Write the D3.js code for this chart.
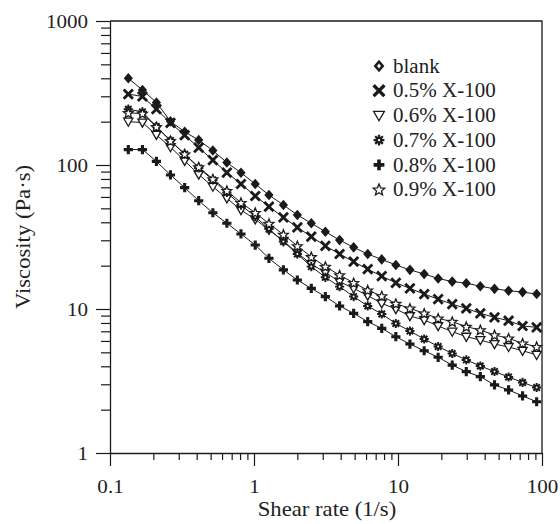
<!DOCTYPE html>
<html><head><meta charset="utf-8">
<script src="https://cdn.jsdelivr.net/npm/d3@7"></script>
<style>
html,body{margin:0;padding:0;background:#fff;}
svg{display:block;}
text{font-family:"Liberation Serif","Times New Roman",serif;fill:#222;}
</style></head>
<body>
<svg id="chart" width="560" height="524"></svg>
<script>
// ---------------- data ----------------
const shearRate = [0.134,0.168,0.210,0.263,0.330,0.413,0.518,0.648,0.812,1.02,
                   1.27,1.60,2.00,2.50,3.13,3.93,4.92,6.16,7.71,9.66,
                   12.1,15.2,19.0,23.8,29.8,37.3,46.8,58.6,73.3,91.8];
const blank   = [400,332,272,201,170,149,126,104,88.4,73.8,
                 61.9,52.7,45.0,39.4,34.4,30.1,26.8,24.1,22.1,20.2,
                 18.7,17.5,16.3,15.5,15.1,14.4,13.8,13.4,13.1,12.7];
const x05     = [311,299,244,196,161,132,108,88.5,73.8,60.9,
                 51.4,43.3,36.9,31.8,27.4,24.1,21.3,18.9,16.9,15.2,
                 13.9,12.7,11.7,10.8,10.1,9.33,8.75,8.29,7.62,7.46];
const x06     = [200,197,162,133,107,85.9,70.7,58.7,48.7,42.0,
                 35.4,29.7,24.5,20.5,17.9,15.5,13.9,12.4,10.95,10.0,
                 8.94,8.39,7.62,6.96,6.42,6.09,5.71,5.45,5.13,4.80];
const x07     = [244,234,185,148,119,95.3,78.7,64.4,52.7,43.8,
                 35.9,29.4,24.1,19.7,16.6,14.3,12.2,10.5,9.23,7.93,
                 7.03,6.19,5.49,4.91,4.43,4.02,3.68,3.37,3.09,2.85];
const x08     = [128,128,106,85.3,69.6,56.5,46.6,39.4,33.2,27.8,
                 22.5,18.7,15.9,13.9,12.2,10.5,9.33,8.17,7.34,6.42,
                 5.71,5.13,4.62,4.08,3.67,3.39,2.97,2.74,2.49,2.27];
const x09     = [230,228,184,147,119,96.8,79.9,66.3,54.7,46.6,
                 39.2,32.9,27.4,23.0,19.7,17.2,15.2,13.5,12.3,10.9,
                 10.1,9.33,8.61,8.17,7.54,7.15,6.60,6.26,5.78,5.47];
const seriesNames = ["blank","0.5% X-100","0.6% X-100","0.7% X-100","0.8% X-100","0.9% X-100"];
const seriesValues = [blank,x05,x06,x07,x08,x09];
const markerTypes = ["diamond","cross","triangle","burst","plus","star"];
const xMajorTicks = [0.1,1,10,100];
const yMajorTicks = [1,10,100,1000];
const xTitle = "Shear rate (1/s)";
const yTitle = "Viscosity (Pa\u00B7s)";

// ---------------- layout ----------------
const L=110, R=542, T=21, B=453;
const svg = d3.select("#chart");
const x = d3.scaleLog().domain([0.1,100]).range([L,R]);
const y = d3.scaleLog().domain([1,1000]).range([B,T]);
const ink = "#1a1a1a";

function minorTicks(lo, hi){
  const out=[];
  for(let d=lo; d<hi; d*=10){ for(let k=2;k<=9;k++) out.push(+(d*k).toPrecision(3)); }
  return out;
}
function fmt(v){ return v<1 ? String(v) : d3.format("d")(v); }
function stretch(sel,k){
  sel.each(function(){
    const len=this.getComputedTextLength();
    this.setAttribute("textLength", (len*k).toFixed(2));
    this.setAttribute("lengthAdjust","spacingAndGlyphs");
  });
}

// frame (top and right)
svg.append("path")
  .attr("d",`M${L},${T}H${R}V${B}`)
  .attr("fill","none").attr("stroke",ink).attr("stroke-width",1.3);

// x axis
const gx = svg.append("g").attr("transform",`translate(0,${B})`);
gx.call(d3.axisBottom(x).tickValues(xMajorTicks).tickSize(13).tickSizeOuter(0).tickPadding(13).tickFormat(fmt));
const gxm = svg.append("g").attr("transform",`translate(0,${B})`);
gxm.call(d3.axisBottom(x).tickValues(minorTicks(0.1,100)).tickSize(7).tickSizeOuter(0).tickFormat(""));
gxm.select(".domain").remove();

// y axis
const gy = svg.append("g").attr("transform",`translate(${L},0)`);
gy.call(d3.axisLeft(y).tickValues(yMajorTicks).tickSize(14).tickSizeOuter(0).tickPadding(8).tickFormat(fmt));
const gym = svg.append("g").attr("transform",`translate(${L},0)`);
gym.call(d3.axisLeft(y).tickValues(minorTicks(1,1000)).tickSize(9).tickSizeOuter(0).tickFormat(""));
gym.select(".domain").remove();

svg.selectAll(".domain").attr("stroke",ink).attr("stroke-width",1.3);
svg.selectAll(".tick line").attr("stroke",ink).attr("stroke-width",1.2);
svg.selectAll(".tick text").attr("font-family",null).attr("font-size",19.5).attr("fill",null);
stretch(svg.selectAll(".tick text"),1.08);

// axis titles
const xt = svg.append("text").attr("x",(L+R)/2+1).attr("y",516)
  .attr("text-anchor","middle").attr("font-size",21).text(xTitle);
stretch(xt,1.08);
const yt = svg.append("text").attr("transform",`translate(30,${(T+B)/2}) rotate(-90)`)
  .attr("text-anchor","middle").attr("font-size",21).text(yTitle);
stretch(yt,1.08);

// marker drawing
function drawMarker(g, type, s){
  const r = s;
  if(type==="diamond"){
    g.append("path").attr("d",`M0,${-r*1.15}L${r},0L0,${r*1.15}L${-r},0Z`).attr("fill",ink);
  } else if(type==="cross"){
    g.append("path").attr("d",`M${-r},${-r}L${r},${r}M${-r},${r}L${r},${-r}`)
      .attr("stroke",ink).attr("stroke-width",r*0.62).attr("fill","none");
  } else if(type==="triangle"){
    g.append("path").attr("d",`M${-r},${-r*0.75}L${r},${-r*0.75}L0,${r*1.0}Z`)
      .attr("fill","#fff").attr("stroke",ink).attr("stroke-width",1.3);
  } else if(type==="burst"){
    const p=[];
    for(let a=0;a<4;a++){
      const t=a*Math.PI/4;
      p.push(`M${(-r*Math.cos(t)).toFixed(2)},${(-r*Math.sin(t)).toFixed(2)}L${(r*Math.cos(t)).toFixed(2)},${(r*Math.sin(t)).toFixed(2)}`);
    }
    g.append("path").attr("d",p.join("")).attr("stroke",ink).attr("stroke-width",r*0.42).attr("fill","none");
    g.append("circle").attr("r",r*0.62).attr("fill",ink);
    g.append("circle").attr("r",r*0.22).attr("fill","#fff");
  } else if(type==="plus"){
    g.append("path").attr("d",`M${-r},0L${r},0M0,${-r}L0,${r}`)
      .attr("stroke",ink).attr("stroke-width",r*0.68).attr("fill","none");
  } else if(type==="star"){
    const pts=[];
    for(let k=0;k<10;k++){
      const rad = k%2===0 ? r*1.12 : r*0.5;
      const t = -Math.PI/2 + k*Math.PI/5;
      pts.push([rad*Math.cos(t), rad*Math.sin(t)+r*0.1]);
    }
    g.append("path").attr("d","M"+pts.map(p=>p[0].toFixed(2)+","+p[1].toFixed(2)).join("L")+"Z")
      .attr("fill","#fff").attr("stroke",ink).attr("stroke-width",1.3);
  }
}

// lines
const line = d3.line().x((d,i)=>x(shearRate[i])).y(d=>y(d));
seriesValues.forEach(vals=>{
  svg.append("path").datum(vals).attr("d",line)
    .attr("fill","none").attr("stroke",ink).attr("stroke-width",1);
});
// markers
seriesValues.forEach((vals,si)=>{
  const g = svg.append("g");
  vals.forEach((v,i)=>{
    const m = g.append("g").attr("transform",`translate(${x(shearRate[i])},${y(v)})`);
    drawMarker(m, markerTypes[si], 4.6);
  });
});

// legend
const lg = svg.append("g");
seriesNames.forEach((name,i)=>{
  const cy = 66 + i*24.7;
  const m = lg.append("g").attr("transform",`translate(379,${cy})`);
  drawMarker(m, markerTypes[i], 5.4);
  if(markerTypes[i]==="diamond"){
    m.append("path").attr("d","M0,-2.4L2,0L0,2.4L-2,0Z").attr("fill","#fff");
  }
  const t = lg.append("text").attr("x",393).attr("y",cy+6.7).attr("font-size",20).text(name);
  stretch(t,1.05);
});
</script>
</body></html>
